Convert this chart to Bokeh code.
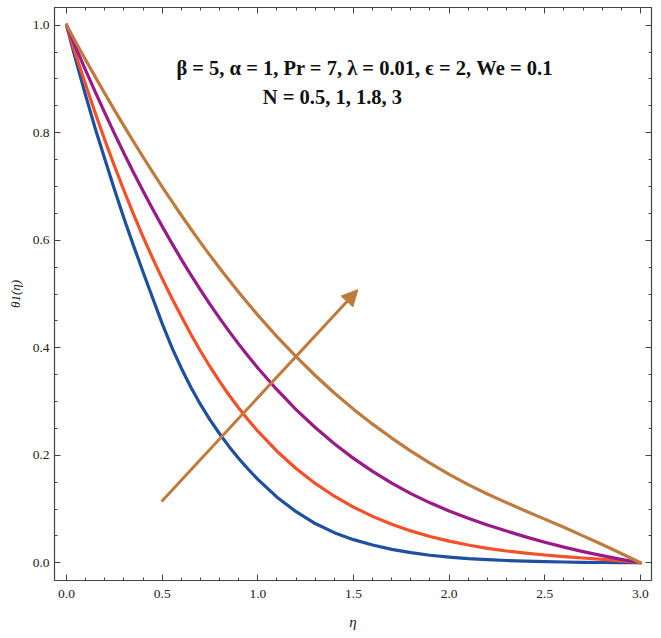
from bokeh.plotting import figure
from bokeh.models import (LinearAxis, FixedTicker, PrintfTickFormatter, CustomJSTickFormatter,
                          Label, Arrow, NormalHead, Range1d)
from bokeh.embed import file_html
from bokeh.resources import INLINE

# Temperature profiles theta1(eta) for several values of N
eta = [0.0, 0.05, 0.1, 0.15, 0.2, 0.25, 0.3, 0.35, 0.4, 0.45, 0.5,
       0.55, 0.6, 0.65, 0.7, 0.75, 0.8, 0.85, 0.9, 0.95, 1.0,
       1.1, 1.2, 1.3, 1.4, 1.5, 1.6, 1.7, 1.8, 1.9, 2.0,
       2.1, 2.2, 2.3, 2.4, 2.5, 2.6, 2.7, 2.8, 2.9, 3.0]

theta_n05 = [1.0, 0.933, 0.869, 0.808, 0.751, 0.695, 0.641, 0.590, 0.541, 0.4925, 0.445,
             0.401, 0.362, 0.3265, 0.2945, 0.266, 0.240, 0.216, 0.194, 0.174, 0.155,
             0.122, 0.095, 0.073, 0.056, 0.043, 0.033, 0.025, 0.019, 0.014, 0.0105,
             0.0077, 0.0057, 0.0042, 0.003, 0.0021, 0.0014, 0.0009, 0.0005, 0.0002, 0.0]
theta_n1 = [1.0, 0.9435, 0.8891, 0.8369, 0.7866, 0.7385, 0.6925, 0.6485, 0.6065, 0.5666, 0.5286,
            0.4926, 0.4584, 0.4251, 0.3939, 0.3647, 0.3373, 0.3117, 0.2879, 0.2656, 0.2448,
            0.2075, 0.1753, 0.1476, 0.1238, 0.1035, 0.0863, 0.0717, 0.0593, 0.0489, 0.0402,
            0.0330, 0.0269, 0.0219, 0.0178, 0.0144, 0.0115, 0.0089, 0.0064, 0.0034, 0.0]
theta_n18 = [1.0, 0.9575, 0.9162, 0.8759, 0.8368, 0.7988, 0.7619, 0.7261, 0.6916, 0.6581, 0.6258,
             0.5946, 0.5645, 0.5355, 0.5076, 0.4809, 0.4551, 0.4304, 0.4068, 0.3841, 0.3624,
             0.3219, 0.2850, 0.2516, 0.2214, 0.1942, 0.1699, 0.1481, 0.1287, 0.1115, 0.0963,
             0.0829, 0.0703, 0.0590, 0.0482, 0.0382, 0.0290, 0.0208, 0.0134, 0.0064, 0.0]
theta_n3 = [1.0, 0.9675, 0.9355, 0.9040, 0.8730, 0.8426, 0.8128, 0.7835, 0.7549, 0.7269, 0.6994,
            0.6726, 0.6465, 0.6210, 0.5961, 0.5719, 0.5484, 0.5255, 0.5032, 0.4817, 0.4607,
            0.4208, 0.3834, 0.3484, 0.3159, 0.2858, 0.2579, 0.2320, 0.2078, 0.1853, 0.1645,
            0.1454, 0.1279, 0.1118, 0.0964, 0.0812, 0.0660, 0.0500, 0.0340, 0.0172, 0.0]

series = [theta_n05, theta_n1, theta_n18, theta_n3]
colors = ["#1f4fa0", "#f4502a", "#9a1a88", "#bf7a3d"]

x_ticks = [0.0, 0.5, 1.0, 1.5, 2.0, 2.5, 3.0]
x_minor = [round(0.1 * i, 1) for i in range(31)]
y_ticks = [0.0, 0.2, 0.4, 0.6, 0.8, 1.0]
y_minor = [round(0.05 * i, 2) for i in range(21)]

# direction of increasing N
arrow_start = (0.497, 0.114)
arrow_end = (1.523, 0.508)

title_1 = "β = 5, α = 1, Pr = 7, λ = 0.01, ϵ = 2, We = 0.1"
title_2 = "N = 0.5, 1, 1.8, 3"

serif = "Liberation Serif"
axis_gray = "#444444"

p = figure(width=661, height=638, output_backend="svg", toolbar_location=None,
           x_range=Range1d(-0.063, 3.058), y_range=Range1d(-0.033, 1.033),
           min_border_left=54, min_border_right=10, min_border_top=7, min_border_bottom=58,
           background_fill_color="white", border_fill_color="white")
p.xgrid.visible = False
p.ygrid.visible = False
p.outline_line_color = axis_gray
p.outline_line_width = 1


def style_axis(ax, ticks, minor, labels=True):
    ax.ticker = FixedTicker(ticks=ticks, minor_ticks=minor)
    ax.axis_line_color = axis_gray
    ax.axis_line_width = 1.2
    ax.major_tick_line_color = axis_gray
    ax.minor_tick_line_color = axis_gray
    ax.major_tick_in = 6
    ax.major_tick_out = 0
    ax.minor_tick_in = 3
    ax.minor_tick_out = 0
    if labels:
        ax.formatter = PrintfTickFormatter(format="%.1f")
        ax.major_label_text_font = serif
        ax.major_label_text_font_size = "13.5px"
        ax.major_label_text_color = "#222222"
    else:
        ax.formatter = CustomJSTickFormatter(code="return ''")
        ax.major_label_text_font_size = "1px"
        ax.major_label_standoff = 0


style_axis(p.xaxis[0], x_ticks, x_minor)
style_axis(p.yaxis[0], y_ticks, y_minor)
p.xaxis[0].major_label_standoff = 9
p.yaxis[0].major_label_standoff = 5
p.xaxis[0].axis_label = "η"
p.yaxis[0].axis_label = "θ1(η)"
for ax in (p.xaxis[0], p.yaxis[0]):
    ax.axis_label_text_font = serif
    ax.axis_label_text_font_style = "italic"
    ax.axis_label_text_color = "#222222"
p.xaxis[0].axis_label_text_font_size = "15px"
p.xaxis[0].axis_label_standoff = 13
p.yaxis[0].axis_label_text_font_size = "13px"
p.yaxis[0].axis_label_standoff = 7

top_axis = LinearAxis()
right_axis = LinearAxis()
style_axis(top_axis, x_ticks, x_minor, labels=False)
style_axis(right_axis, y_ticks, y_minor, labels=False)
p.add_layout(top_axis, "above")
p.add_layout(right_axis, "right")

for ys, c in zip(series, colors):
    p.line(eta, ys, line_color=c, line_width=3.2, line_join="round", line_cap="round")

p.add_layout(Arrow(x_start=arrow_start[0], y_start=arrow_start[1],
                   x_end=arrow_end[0], y_end=arrow_end[1],
                   line_color=colors[3], line_width=3,
                   end=NormalHead(size=16, fill_color=colors[3], line_color=colors[3])))

p.add_layout(Label(x=1.558, y=0.92, text=title_1, text_align="center",
                   text_baseline="alphabetic", text_font=serif, text_font_style="bold",
                   text_font_size="20.5px", text_color="#111111"))
p.add_layout(Label(x=1.39, y=0.866, text=title_2, text_align="center",
                   text_baseline="alphabetic", text_font=serif, text_font_style="bold",
                   text_font_size="20.5px", text_color="#111111"))

open("out.html", "w").write(file_html(p, INLINE))
